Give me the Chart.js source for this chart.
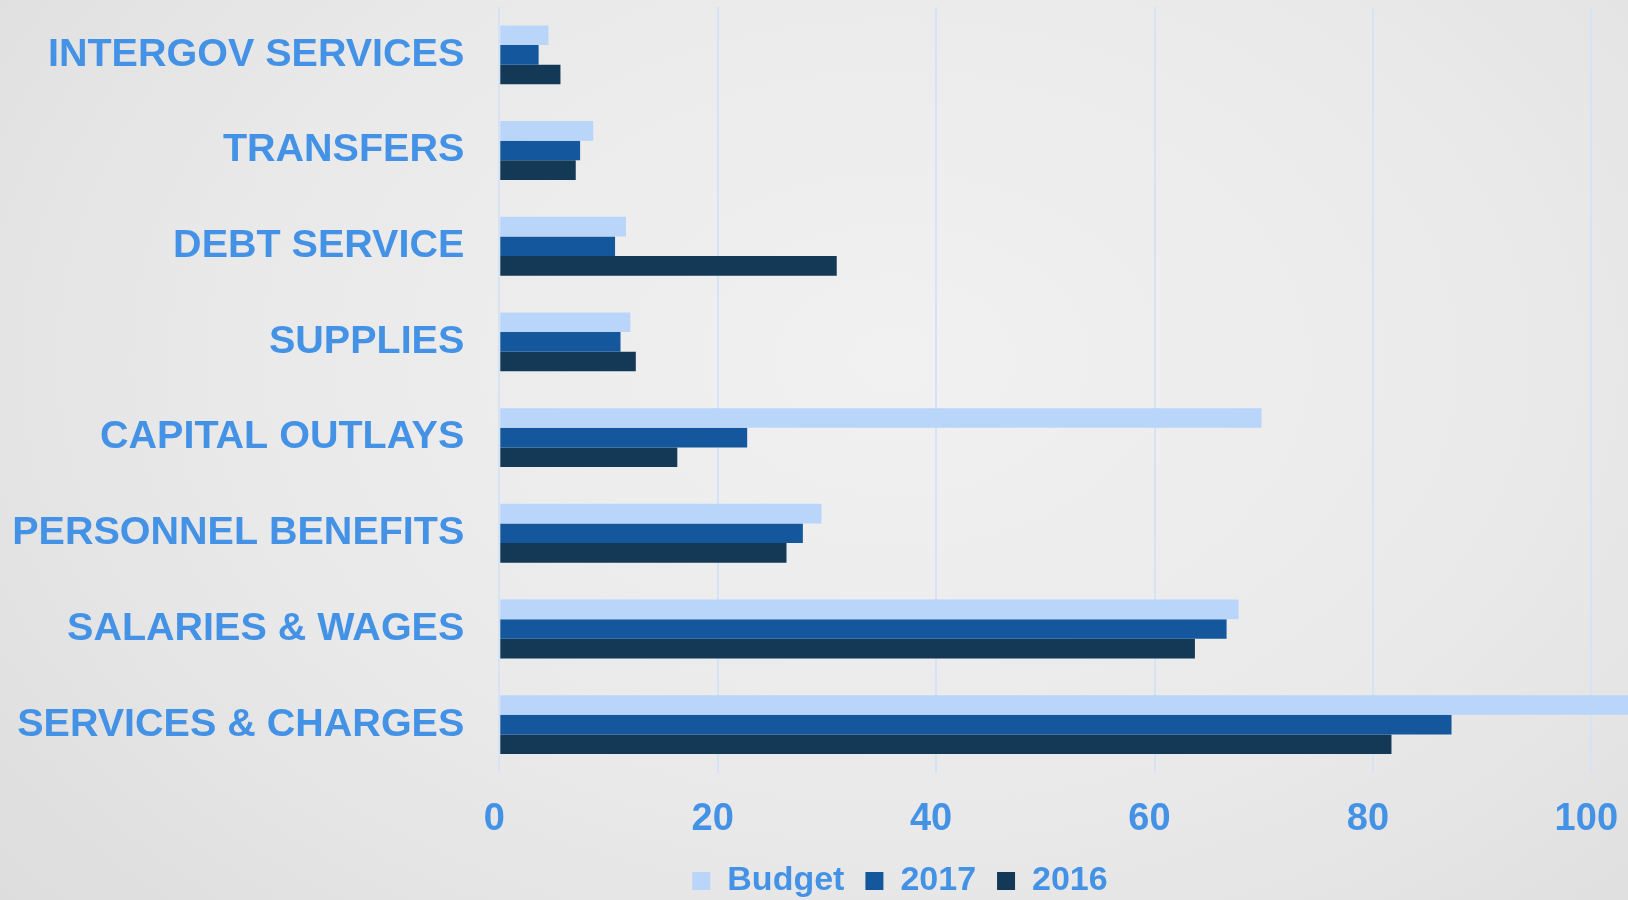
<!DOCTYPE html>
<html>
<head>
<meta charset="utf-8">
<title>Expenditures by category</title>
<script src="https://cdn.jsdelivr.net/npm/chart.js@4.4.1/dist/chart.umd.min.js"></script>
<style>
  html, body { margin: 0; padding: 0; width: 1628px; height: 900px; overflow: hidden; }
  body { background: radial-gradient(ellipse 75% 95% at 55% 40%, #f1f1f1 0%, #e9e9e9 55%, #dcdcdc 100%); }
  #wrap { position: relative; width: 1628px; height: 900px; }
</style>
</head>
<body>
<div id="wrap"><canvas id="expenseChart"></canvas></div>
<script>
const categories = [
    "INTERGOV SERVICES", "TRANSFERS", "DEBT SERVICE", "SUPPLIES",
    "CAPITAL OUTLAYS", "PERSONNEL BENEFITS", "SALARIES & WAGES", "SERVICES & CHARGES"
];
const seriesNames = ["Budget", "2017", "2016"];
const budget = [4.5, 8.6, 11.6, 12.0, 69.8, 29.5, 67.7, 104];
const year2017 = [3.6, 7.4, 10.6, 11.1, 22.7, 27.8, 66.6, 87.2];
const year2016 = [5.6, 7.0, 30.9, 12.5, 16.3, 26.3, 63.7, 81.7];
const xTicks = [0, 20, 40, 60, 80, 100];

const LABEL_BLUE = "#4492e6";
const FONT = "'Liberation Sans', Arial, sans-serif";

// legend in the picture sits right of canvas centre, push it over
const legendShift = {
    id: "legendShift",
    afterLayout(chart) {
        const lg = chart.legend;
        if (!lg) return;
        lg.left = 172;
        lg.right = 1628;
        lg.width = lg.right - lg.left;
        lg.top += 8;
        lg.bottom += 8;
    }
};

function makeChart() {
    const ctx = document.getElementById('expenseChart').getContext('2d');

    new Chart(ctx, {
        type: 'bar',
        data: {
            labels: categories,
            datasets: [
                { label: seriesNames[0], data: budget, backgroundColor: '#b9d5f9' },
                { label: seriesNames[1], data: year2017, backgroundColor: '#15579d' },
                { label: seriesNames[2], data: year2016, backgroundColor: '#133956' }
            ]
        },
        options: {
            indexAxis: 'y',
            responsive: true,
            maintainAspectRatio: false,
            animation: false,
            datasets: {
                bar: { barPercentage: 1, categoryPercentage: 0.615, borderWidth: 0 }
            },
            layout: { padding: { top: 7, left: 0, right: 0, bottom: 0 } },
            scales: {
                x: {
                    min: 0,
                    max: 103.36,
                    grid: { color: '#d5e3f4', lineWidth: 2, drawTicks: false },
                    border: { display: false },
                    afterBuildTicks: scale => { scale.ticks = xTicks.map(v => ({ value: v })); },
                    afterFit: scale => {
                        scale.height = 62.5;
                        scale.paddingLeft = 0;
                        scale.paddingRight = 0;
                    },
                    ticks: {
                        padding: 24,
                        labelOffset: -5,
                        color: LABEL_BLUE,
                        font: { family: FONT, size: 38, weight: 'bold' }
                    }
                },
                y: {
                    grid: { display: false, drawTicks: false },
                    border: { display: false },
                    afterFit: scale => {
                        scale.width = 499.3;
                        scale.paddingTop = 0;
                        scale.paddingBottom = 0;
                    },
                    ticks: {
                        padding: 35,
                        color: LABEL_BLUE,
                        font: { family: FONT, size: 39.5, weight: 'bold' }
                    }
                }
            },
            plugins: {
                legend: {
                    position: 'bottom',
                    labels: {
                        boxWidth: 18,
                        boxHeight: 18,
                        padding: 21,
                        color: LABEL_BLUE,
                        font: { family: FONT, size: 34, weight: 'bold' }
                    }
                },
                tooltip: { enabled: false }
            }
        },
        plugins: [legendShift]
    });
}

makeChart();
</script>
</body>
</html>
